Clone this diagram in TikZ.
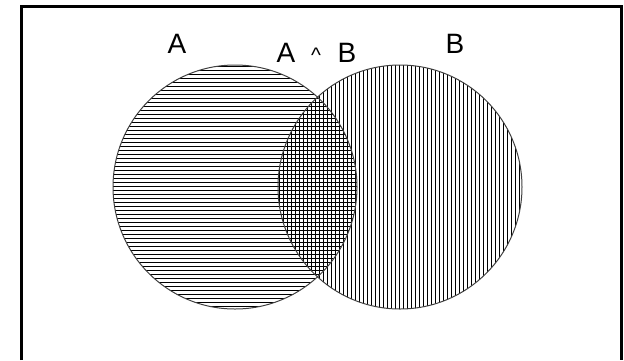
\documentclass[tikz,border=0pt]{standalone}
\usepackage{fontspec}
\setmainfont{Liberation Sans}
\tikzset{
  hatch/.style={line width=0.8pt},
  rim/.style={draw=black!75, line width=1pt},
  lbl/.style={anchor=base, inner sep=0pt, font=\fontsize{28}{30}\selectfont}
}
\begin{document}
\begin{tikzpicture}[x=1pt, y=-1pt]
  \useasboundingbox (0,0) rectangle (624,360);
  \draw[line width=3pt] (21,360) |- (621.5,6.5) -- (621.5,360);
  % set A: horizontal lines
  \begin{scope}
    \clip (235,187) circle (122pt);
    \foreach \y in {66,70,...,310} \draw[hatch] (110,\y) -- (360,\y);
  \end{scope}
  % set B: vertical lines
  \begin{scope}
    \clip (400,187) circle (122pt);
    \foreach \x in {279,283,...,524} \draw[hatch] (\x,62) -- (\x,312);
  \end{scope}
  \draw[rim] (235,187) circle (122pt);
  \draw[rim] (400,187) circle (122pt);
  \node[lbl] (labelA) at (177,53) {A};
  \node[lbl] (labelB) at (455,53) {B};
  \node[lbl] (capA) at (286,62) {A};
  \node[lbl, font=\fontsize{21}{23}\selectfont] (capOp) at (316,62) {\^{}};
  \node[lbl] (capB) at (347,62) {B};
\end{tikzpicture}
\end{document}
